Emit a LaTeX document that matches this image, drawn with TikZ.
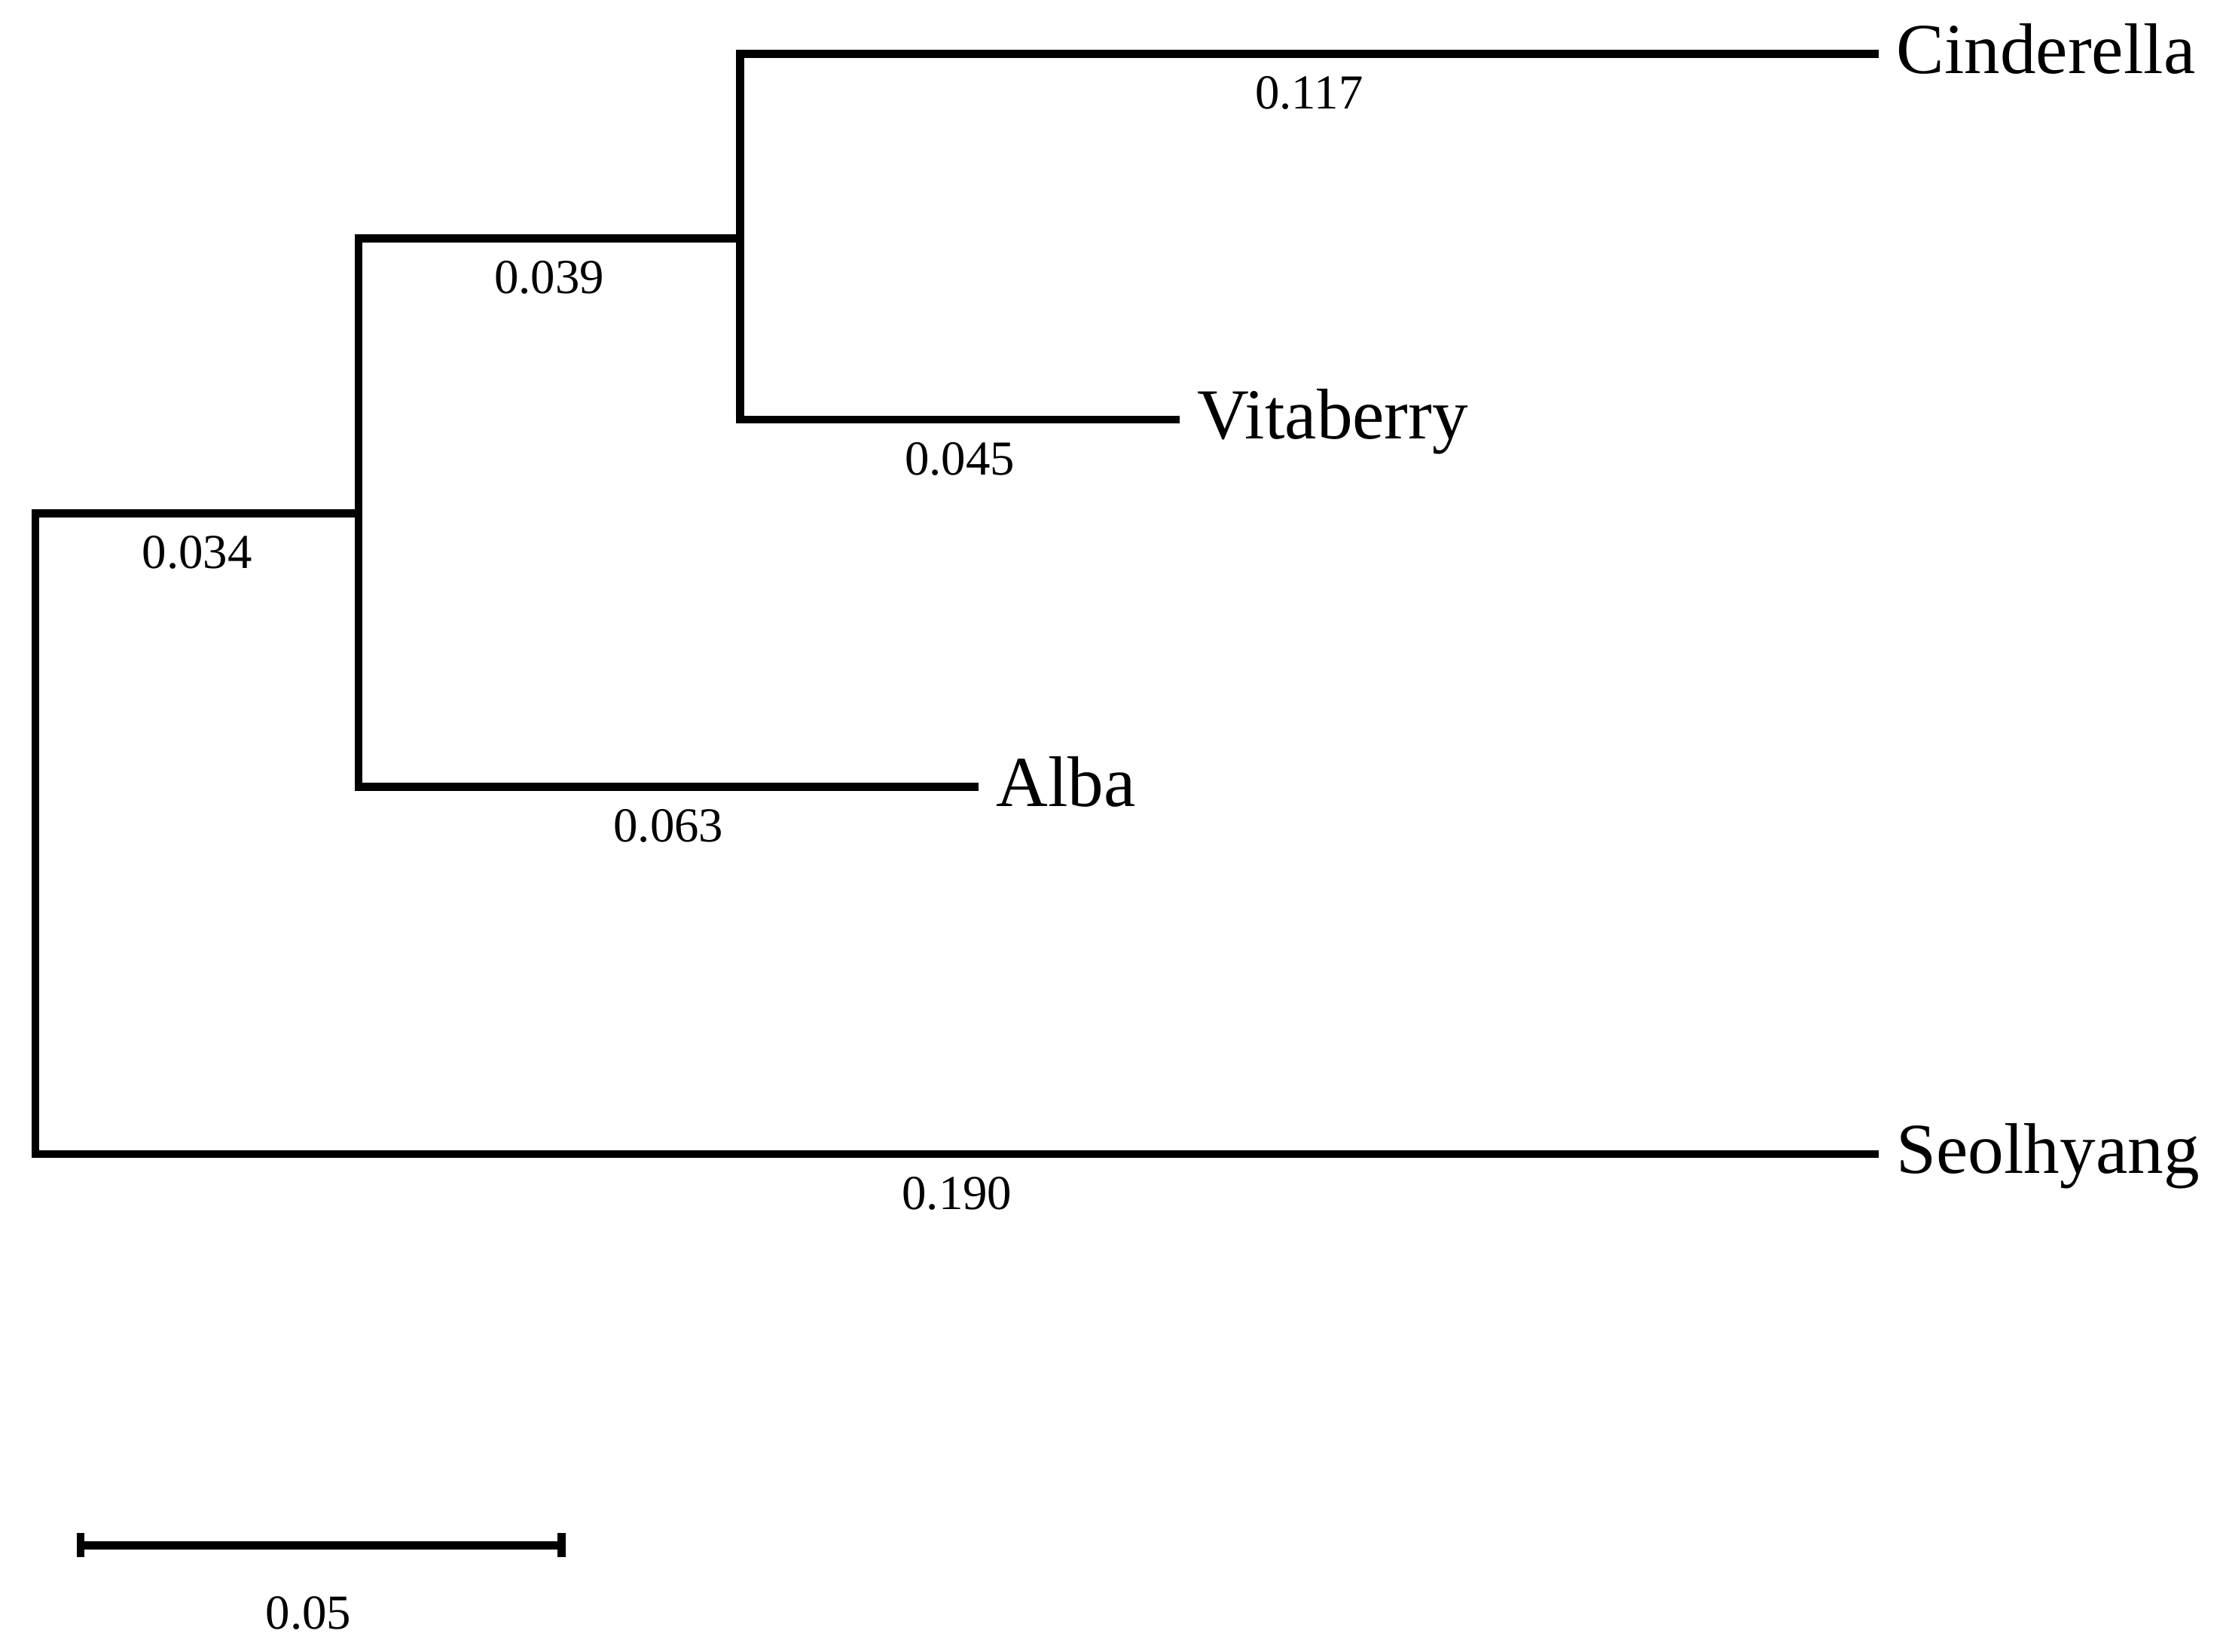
\documentclass[tikz,border=0pt]{standalone}
\usepackage{fontspec}
\setmainfont{Liberation Serif}
\usepackage{tikz}
\usetikzlibrary{arrows.meta}
\tikzset{branch/.style={line width=1.6pt,black},
  tip/.style={anchor=west,inner xsep=0.12cm,inner ysep=0pt,text height=0.78em,text depth=0pt,font=\fontsize{14.4}{17}\selectfont},
  blen/.style={yshift=-0.27cm,inner sep=0pt,text height=0.68em,text depth=0pt,font=\fontsize{9.8}{12}\selectfont}}

\begin{document}
\begin{tikzpicture}[x=1cm,y=1cm]
\useasboundingbox (0,0) rectangle (15.68,-11.65);
% inner nodes
\coordinate (root) at (0.25,-5.88);
\coordinate (nA) at (2.53,-3.62);
\coordinate (nB) at (5.22,-1.68);
% leaves
\node[tip] (cin) at (13.25,-0.38) {Cinderella};
\node[tip] (vit) at (8.32,-2.96) {Vitaberry};
\node[tip] (alb) at (6.90,-5.55) {Alba};
\node[tip] (seo) at (13.25,-8.14) {Seolhyang};
% branches
\draw[branch] (nB) |- (cin.west) node[pos=.75,blen] (l117) {0.117};
\draw[branch] (nB) |- (vit.west) node[pos=.75,blen] (l045) {0.045};
\draw[branch] (nA) |- (nB) node[pos=.75,blen] (l039) {0.039};
\draw[branch] (nA) |- (alb.west) node[pos=.75,blen] (l063) {0.063};
\draw[branch] (root) |- (nA) node[pos=.75,blen] (l034) {0.034};
\draw[branch] (root) |- (seo.west) node[pos=.75,blen] (l190) {0.190};
% scale bar
\coordinate (s0) at (0.54,-10.90);
\coordinate (s1) at (3.99,-10.90);
\draw[branch,{Bar[width=0.17cm]}-{Bar[width=0.17cm]}] (s0) -- (s1)
  node[midway,blen,yshift=-0.20cm,xshift=-0.09cm] (scl) {0.05};
\end{tikzpicture}
\end{document}
